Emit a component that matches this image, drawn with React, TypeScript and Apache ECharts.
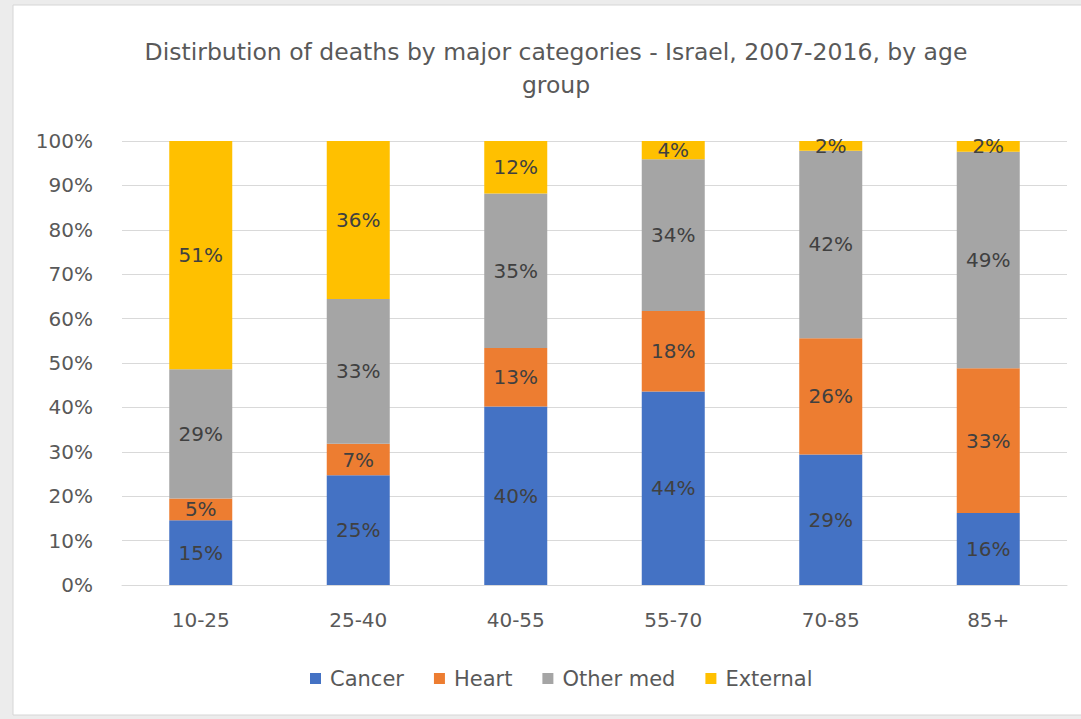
import React, { useEffect, useRef } from "react";
import * as echarts from "echarts";

// Age groups on the x axis
const ageGroups = ["10-25", "25-40", "40-55", "55-70", "70-85", "85+"];

// Share of deaths (%) per cause, per age group
const cancer = [14.6, 24.7, 40.2, 43.6, 29.4, 16.2];
const heart = [4.9, 7.1, 13.2, 18.1, 26.2, 32.6];
const otherMed = [29.1, 32.6, 34.8, 34.2, 42.2, 48.8];
const external = [51.4, 35.6, 11.8, 4.1, 2.2, 2.4];

const seriesNames = ["Cancer", "Heart", "Other med", "External"];
const seriesColors = ["#4472C4", "#ED7D31", "#A5A5A5", "#FFC000"];

const yTicks = [0, 10, 20, 30, 40, 50, 60, 70, 80, 90, 100];

const FONT = "'DejaVu Sans', 'Open Sans', sans-serif";

export default function App() {
  const ref = useRef<HTMLDivElement>(null);

  useEffect(() => {
    if (!ref.current) return;
    const chart = echarts.init(ref.current, undefined, { renderer: "svg" });
    const values = [cancer, heart, otherMed, external];

    chart.setOption({
      animation: false,
      backgroundColor: "transparent",
      textStyle: { fontFamily: FONT },
      graphic: [
        {
          type: "rect",
          z: -10,
          shape: { x: 13, y: 5, width: 1080, height: 710 },
          style: { fill: "#ffffff", stroke: "#d6d6d6", lineWidth: 1 },
          silent: true,
        },
      ],
      title: {
        text: "Distirbution of deaths by major categories - Israel, 2007-2016, by age\ngroup",
        left: 551,
        top: 30,
        textAlign: "center",
        textStyle: {
          fontFamily: FONT,
          fontSize: 23.5,
          fontWeight: "normal",
          color: "#595959",
          lineHeight: 33,
        },
      },
      legend: {
        data: seriesNames,
        bottom: 25,
        left: 305,
        itemWidth: 11,
        itemHeight: 11,
        itemGap: 30,
        icon: "rect",
        textStyle: {
          fontFamily: FONT,
          fontSize: 21,
          color: "#595959",
          padding: [0, 0, 0, 4],
        },
      },
      grid: { left: 122, right: 14, top: 141, bottom: 134 },
      xAxis: {
        type: "category",
        data: ageGroups,
        axisLine: { lineStyle: { color: "#d9d9d9", width: 1 } },
        axisTick: { show: false },
        axisLabel: {
          fontFamily: FONT,
          fontSize: 20,
          color: "#595959",
          margin: 25,
        },
      },
      yAxis: {
        type: "value",
        min: yTicks[0],
        max: yTicks[yTicks.length - 1],
        interval: 10,
        axisLine: { show: false },
        axisTick: { show: false },
        splitLine: { lineStyle: { color: "#d9d9d9", width: 1 } },
        axisLabel: {
          fontFamily: FONT,
          fontSize: 20,
          color: "#595959",
          margin: 29,
          formatter: (v: number) => `${v}%`,
        },
      },
      series: seriesNames.map((name, i) => ({
        name,
        type: "bar",
        stack: "total",
        barWidth: "40%",
        data: values[i],
        itemStyle: { color: seriesColors[i] },
        label: {
          show: true,
          position: "inside",
          fontFamily: FONT,
          fontSize: 20,
          color: "#404040",
          formatter: (p: any) => `${Math.round(p.value)}%`,
        },
      })),
    });

    return () => chart.dispose();
  }, []);

  return (
    <div
      style={{
        position: "fixed",
        left: 0,
        top: 0,
        width: 1081,
        height: 719,
        background: "#ececec",
      }}
    >
      <div ref={ref} style={{ width: 1081, height: 719 }} />
    </div>
  );
}
